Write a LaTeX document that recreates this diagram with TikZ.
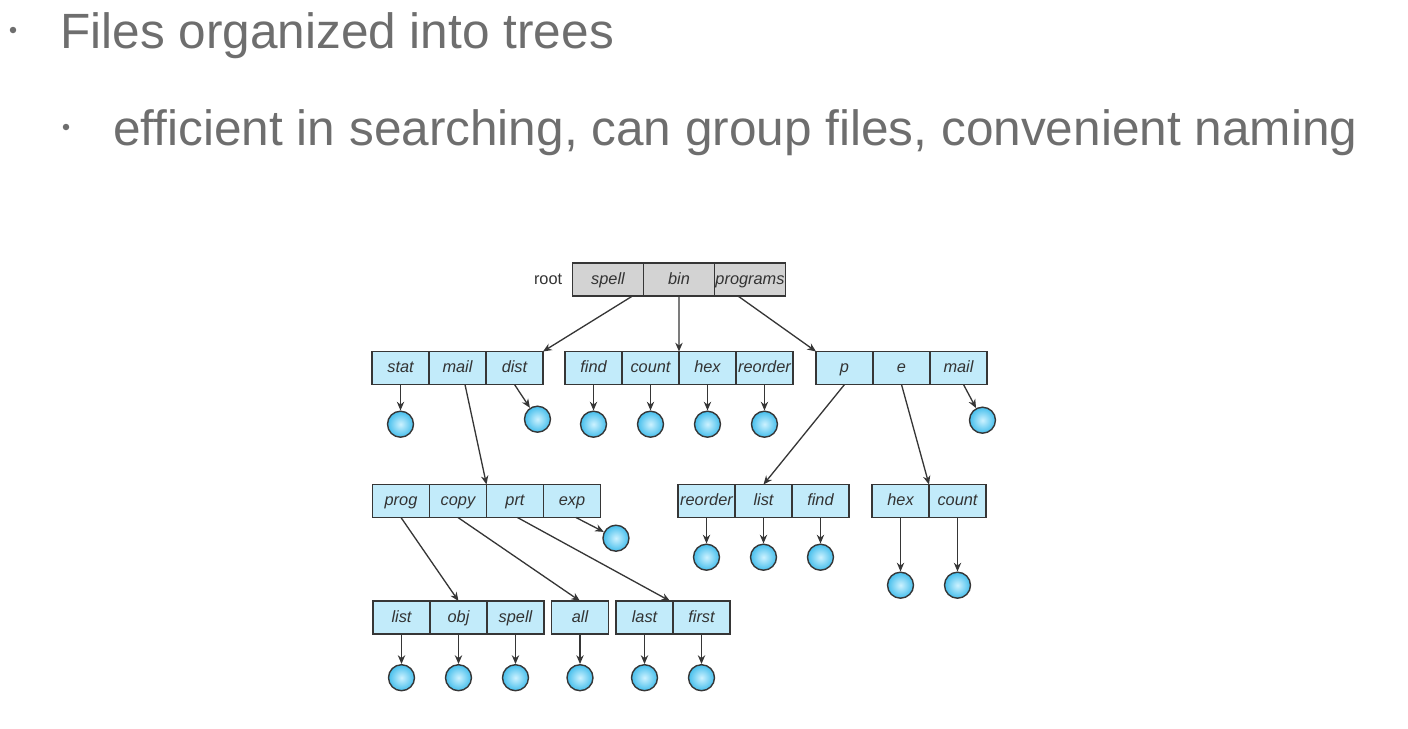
\documentclass[tikz,border=0pt]{standalone}
\usepackage{fontspec}
\setmainfont{Liberation Sans}
\usepackage{xcolor}
\usepackage{tikz}
\definecolor{slate}{HTML}{6E6E6E}
\definecolor{cell}{HTML}{C2EBFA}
\definecolor{rootcell}{HTML}{D3D3D3}
\definecolor{edge}{HTML}{363636}
\definecolor{ballin}{HTML}{CDF2FF}
\definecolor{ballout}{HTML}{45BEEC}
\usetikzlibrary{arrows.meta,positioning}

\begin{document}
\begin{tikzpicture}[x=0.02cm,y=-0.02cm,
  node distance=0pt,
  cellbox/.style={rectangle,draw=edge,line width=0.75pt,fill=cell,minimum width=1.14cm,
              minimum height=0.66cm,inner sep=0pt,outer sep=0pt,text height=0.72em,text depth=0.2em,
              font=\fontsize{9.3}{11}\selectfont\itshape,text=black!80},
  rootbox/.style={cellbox,fill=rootcell,minimum width=1.42cm},
  leaf/.style={circle,draw=edge,line width=0.8pt,minimum size=0.52cm,inner sep=0pt,
              inner color=ballin,outer color=ballout},
  arr/.style={-{Stealth[length=5pt,width=4.2pt]},color=edge,line width=0.75pt},
  bullet/.style={circle,fill=slate,inner sep=0pt,minimum size=0.13cm},
  head/.style={anchor=base west,font=\fontsize{28.2}{34}\selectfont,text=slate,inner sep=0pt}]
  \useasboundingbox (0,0) rectangle (1408,728);
  % slide text
  \node[bullet] (b1) at (13,30) {};
  \node[head] (h1) at (60,48) {Files organized into trees};
  \node[bullet] (b2) at (66,127) {};
  \node[head] (h2) at (113,145) {efficient in searching, can group files, convenient naming};
  % root directory
  \node[rootbox] (spell) at (608,279.5) {spell};
  \node[rootbox,right=of spell] (bin) {bin};
  \node[rootbox,right=of bin] (programs) {programs};
  \node[left=0.2cm of spell,inner sep=0pt,font=\fontsize{9.3}{11}\selectfont,text=black!80] (rootlbl) {root};
  % first level
  \node[cellbox] (stat) at (400.5,368) {stat};
  \node[cellbox,right=of stat] (mail) {mail};
  \node[cellbox,right=of mail] (dist) {dist};
  \node[cellbox] (find) at (593.5,368) {find};
  \node[cellbox,right=of find] (count) {count};
  \node[cellbox,right=of count] (hex) {hex};
  \node[cellbox,right=of hex] (reorder) {reorder};
  \node[cellbox] (p) at (844.5,368) {p};
  \node[cellbox,right=of p] (e) {e};
  \node[cellbox,right=of e] (mailb) {mail};
  % second level
  \node[cellbox] (prog) at (401,501) {prog};
  \node[cellbox,right=of prog] (copy) {copy};
  \node[cellbox,right=of copy] (prt) {prt};
  \node[cellbox,right=of prt] (exp) {exp};
  \node[cellbox] (reorderb) at (706.5,501) {reorder};
  \node[cellbox,right=of reorderb] (list) {list};
  \node[cellbox,right=of list] (findb) {find};
  \node[cellbox] (hexb) at (900.5,501) {hex};
  \node[cellbox,right=of hexb] (countb) {count};
  % third level
  \node[cellbox] (listb) at (401.5,617.5) {list};
  \node[cellbox,right=of listb] (obj) {obj};
  \node[cellbox,right=of obj] (spellb) {spell};
  \node[cellbox] (all) at (580,617.5) {all};
  \node[cellbox] (last) at (644.5,617.5) {last};
  \node[cellbox,right=of last] (first) {first};
  % files
  \node[leaf,below=0.52cm of stat] (ostat) {};
  \node[leaf,below=0.42cm of dist,xshift=0.46cm] (odist) {};
  \node[leaf,below=0.52cm of find] (ofind) {};
  \node[leaf,below=0.52cm of count] (ocount) {};
  \node[leaf,below=0.52cm of hex] (ohex) {};
  \node[leaf,below=0.52cm of reorder] (oreorder) {};
  \node[leaf,below=0.44cm of mailb,xshift=0.48cm] (omailb) {};
  \node[leaf,below=0.14cm of exp,xshift=0.88cm] (oexp) {};
  \node[leaf,below=0.52cm of reorderb] (oreorderb) {};
  \node[leaf,below=0.52cm of list] (olist) {};
  \node[leaf,below=0.52cm of findb] (ofindb) {};
  \node[leaf,below=1.08cm of hexb] (ohexb) {};
  \node[leaf,below=1.08cm of countb] (ocountb) {};
  \node[leaf,below=0.6cm of listb] (olistb) {};
  \node[leaf,below=0.6cm of obj] (oobj) {};
  \node[leaf,below=0.6cm of spellb] (ospellb) {};
  \node[leaf,below=0.6cm of all] (oall) {};
  \node[leaf,below=0.6cm of last] (olast) {};
  \node[leaf,below=0.6cm of first] (ofirst) {};
  % directory links
  \draw[arr]([xshift=-0.22cm]spell.south east)--(dist.north east);
  \draw[arr](bin.south)--(count.north east);
  \draw[arr]([xshift=-0.24cm]programs.south)--(p.north west);
  \draw[arr]([xshift=0.15cm]mail.south)--(copy.north east);
  \draw[arr](p.south)--(list.north);
  \draw[arr](e.south)--(hexb.north east);
  \draw[arr](prog.south)--(obj.north);
  \draw[arr](copy.south)--(all.north);
  \draw[arr]([xshift=0.05cm]prt.south)--([xshift=-0.06cm]last.north east);
  % file links
  \draw[arr](stat)--(ostat);\draw[arr](dist.south)--(odist);
  \draw[arr](find)--(ofind);\draw[arr](count)--(ocount);
  \draw[arr](hex)--(ohex);\draw[arr](reorder)--(oreorder);
  \draw[arr]([xshift=0.1cm]mailb.south)--(omailb);
  \draw[arr]([xshift=0.08cm]exp.south)--(oexp);
  \draw[arr](reorderb)--(oreorderb);\draw[arr](list)--(olist);\draw[arr](findb)--(ofindb);
  \draw[arr](hexb)--(ohexb);\draw[arr](countb)--(ocountb);
  \draw[arr](listb)--(olistb);\draw[arr](obj)--(oobj);\draw[arr](spellb)--(ospellb);
  \draw[arr](all)--(oall);\draw[arr](last)--(olast);\draw[arr](first)--(ofirst);
\end{tikzpicture}
\end{document}
